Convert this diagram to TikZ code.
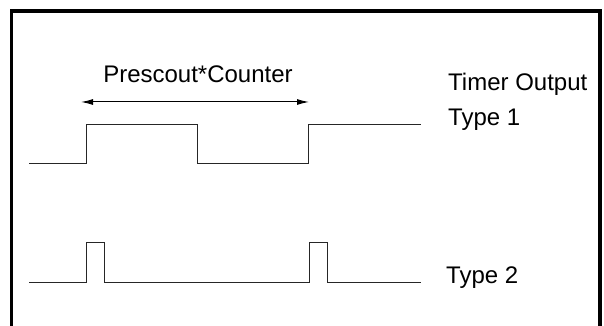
\documentclass[tikz,border=0pt]{standalone}
\usepackage{fontspec}
\setmainfont{Liberation Sans}
\usetikzlibrary{arrows.meta}
\begin{document}
\begin{tikzpicture}[x=1pt, y=1pt,
  every node/.style={inner sep=0pt, font=\fontsize{24}{28}\selectfont},
  wave/.style={line width=1pt, black!85},
  span/.style={line width=1pt, {Latex[length=12pt,width=6pt]}-{Latex[length=12pt,width=6pt]}}]
  \useasboundingbox (0,0) rectangle (604,326);
  % Rahmen
  \draw[line width=3.5pt] (11.5,0) -- (11.5,315) -- (600,315) -- (600,0);

  % Periode
  \coordinate (pl) at (81,224);
  \coordinate (pr) at (309,224);
  \draw[span] (pl) -- (pr);
  \node[anchor=base] (pc) at (198,243) {Prescout*Counter};

  % Type 1
  \draw[wave] (29,162) -- (86,162) -- (86,201) -- (197,201) -- (197,162)
    -- (308,162) -- (308,201) -- (421,201);
  \node[anchor=base west] (out) at (448,235) {Timer Output};
  \node[anchor=base west] (t1) at (448,200) {Type 1};

  % Type 2
  \draw[wave] (29,43) -- (86,43) -- (86,83) -- (104,83) -- (104,43)
    -- (309,43) -- (309,83) -- (327,83) -- (327,43) -- (421,43);
  \node[anchor=base west] (t2) at (446,42) {Type 2};
\end{tikzpicture}
\end{document}
